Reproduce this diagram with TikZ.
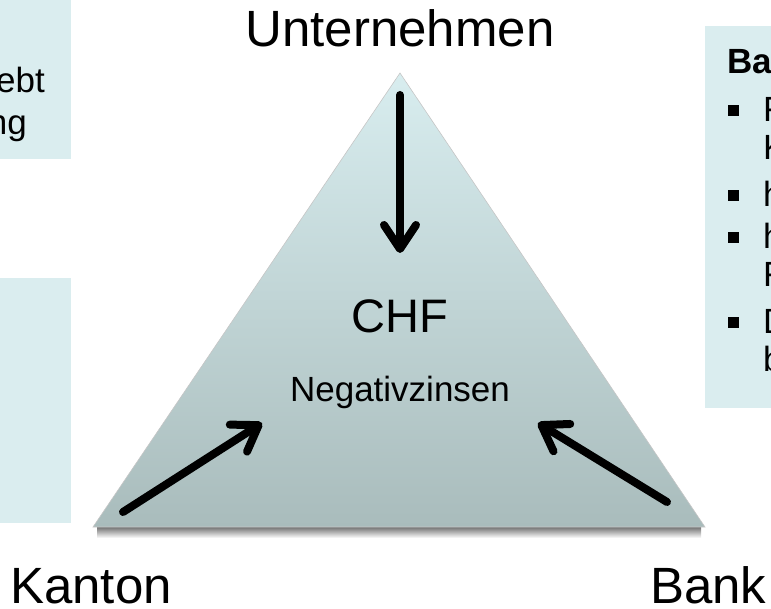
\documentclass[tikz,border=0pt]{standalone}
\usepackage{fontspec}
\setmainfont{Liberation Sans}
\usetikzlibrary{positioning, arrows.meta}
\definecolor{boxfill}{HTML}{DAEDEF}
\definecolor{tritop}{HTML}{D8EDEF}
\definecolor{tribottom}{HTML}{A9BCBC}

\tikzset{
  pfeil/.style={line width=8pt, line cap=round,
    -{Straight Barb[length=24pt,width=32pt,round]}},
  ecke/.style={font=\fontsize{51}{60}\selectfont, inner sep=0pt},
  boxtext/.style={font=\fontsize{35}{42}\selectfont, inner sep=0pt, anchor=base west},
  punkt/.style={fill=black, minimum size=11pt, inner sep=0pt}
}

\begin{document}
\begin{tikzpicture}[x=1pt, y=-1pt]
  \useasboundingbox (0,0) rectangle (771,609);

  % Boxes
  \fill[boxfill] (0,0) rectangle (71,159);
  \fill[boxfill] (0,278) rectangle (71,523);
  \fill[boxfill] (705,26) rectangle (771,408);

  % Left box text
  \node[boxtext, anchor=base east] (links1) at (45,93) {ebt};
  \node[boxtext, anchor=base east] (links2) at (27,135) {ng};

  % Right box text
  \node[boxtext, font=\fontsize{35}{42}\selectfont\bfseries] (bankkopf) at (727,74) {Ba};
  \foreach \y/\t in {122/F, 207/h, 249/h, 334/D} {
    \node[punkt] at (733,\y-11) {};
    \node[boxtext] at (763,\y) {\t};
  }
  \foreach \y/\t in {160/K, 287/F, 372/b}
    \node[boxtext] at (763,\y) {\t};

  % Triangle
  \coordinate (spitze) at (400,73);
  \coordinate (links) at (93,527);
  \coordinate (rechts) at (705,527);
  \shade[top color=black!55, bottom color=white] (97,527) rectangle (701,538);
  \shade[top color=tritop, bottom color=tribottom, draw=gray!45, line width=0.6pt]
    (spitze) -- (rechts) -- (links) -- cycle;

  % Labels
  \node[ecke, anchor=base] (unternehmen) at (400,47) {Unternehmen};
  \node[ecke, anchor=base west] (kanton) at (10,603) {Kanton};
  \node[ecke, anchor=base west] (bank) at (650,603) {Bank};
  \node[font=\fontsize{47}{56}\selectfont, inner sep=0pt, anchor=base] (chf) at (400,333) {CHF};
  \node[font=\fontsize{35}{42}\selectfont, inner sep=0pt, anchor=base] (zins) at (400,402) {Negativzinsen};

  % Arrows
  \coordinate (oStart) at (400,95);
  \coordinate (oEnde) at (400,253);
  \coordinate (lStart) at (123,512);
  \coordinate (lEnde) at (262,423);
  \coordinate (rStart) at (667,502);
  \coordinate (rEnde) at (538,423);
  \draw[pfeil] (oStart) -- (oEnde);
  \draw[pfeil] (lStart) -- (lEnde);
  \draw[pfeil] (rStart) -- (rEnde);
\end{tikzpicture}
\end{document}
